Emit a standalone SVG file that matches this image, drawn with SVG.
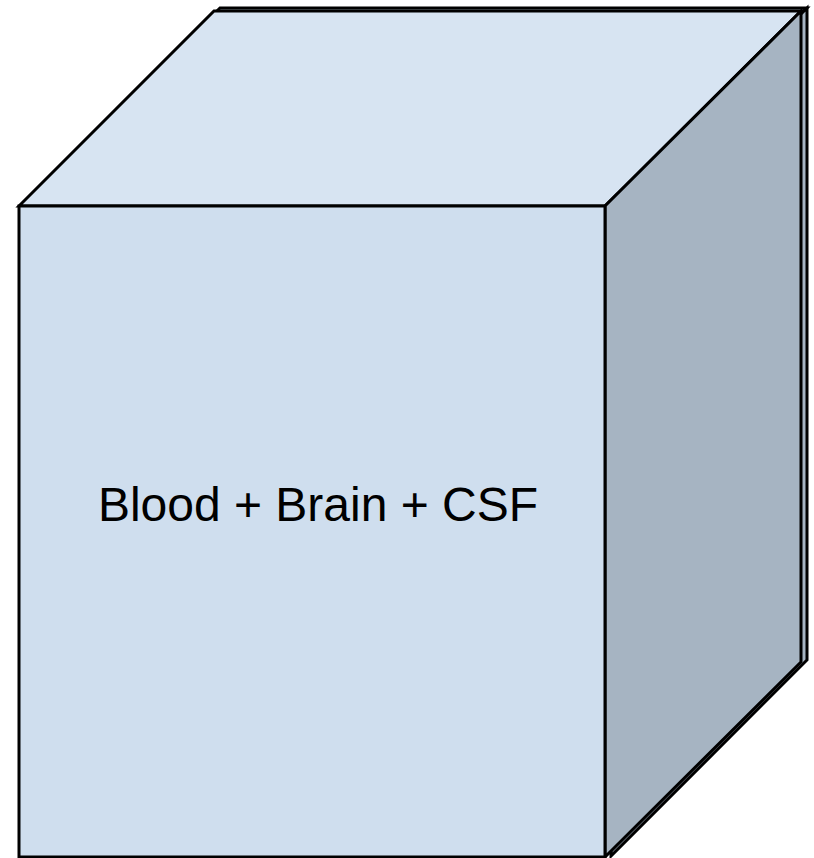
<svg xmlns="http://www.w3.org/2000/svg" width="814" height="858" viewBox="0 0 814 858">
<style>
.e{stroke:#000;stroke-width:3;stroke-linejoin:miter}
.top{fill:#D7E4F2}
.front{fill:#CFDEEE}
.side{fill:#A6B4C2}
.lbl{font-family:"Liberation Sans",Arial,sans-serif;font-size:48px;fill:#000}
</style>
<g id="cube-back">
<polygon class="e top" points="25,203 220,8 807,8 611,203"/>
<polygon class="e side" points="611,203 807,8 807,660 611,856"/>
</g>
<g id="cube">
<polygon class="e top" points="19,206 214,11 801,11 605,206"/>
<polygon class="e side" points="605,206 801,11 801,662 605,857"/>
<rect class="e front" x="19" y="206" width="586" height="651"/>
<text class="lbl" x="318" y="521" text-anchor="middle">Blood + Brain + CSF</text>
</g>
</svg>
